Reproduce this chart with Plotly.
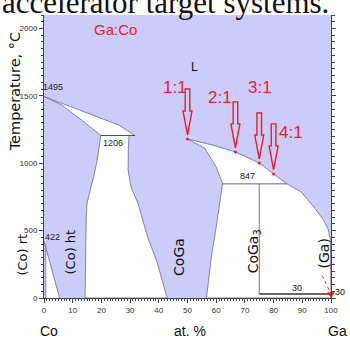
import plotly.graph_objects as go

# ---------------- data ----------------
# liquidus, Co side -> Ga side (at.% Ga, deg C)
liquidus_x = [0, 10, 20, 26, 31.7, 40, 50, 58.6, 66.7, 75, 80, 84.6, 89.6, 94.0, 97.4, 99.1, 99.8, 100]
liquidus_t = [1495, 1413, 1331, 1284, 1206, 1195, 1180, 1136, 1084, 1002, 921, 847, 787, 676, 579, 505, 431, 30]

# solidus of (Co)
co_solidus_x = [0, 6.1, 13, 19.8]
co_solidus_t = [1495, 1433, 1322, 1206]

# (Co) ht solvus
co_ht_solvus_x = [19.8, 19.2, 18.5, 17.3, 16.0, 15.0, 14.7, 14.5, 14.3]
co_ht_solvus_t = [1206, 1100, 1020, 900, 800, 705, 600, 400, 0]

# CoGa left (Co-rich) boundary
coga_left_x = [29.6, 29.4, 29.3, 30.3, 32.7, 36.1, 39.5, 42.9]
coga_left_t = [1206, 1100, 950, 824, 705, 453, 260, 0]

# CoGa right (Ga-rich) boundary: solidus then solvus
coga_right_x = [50, 55.9, 60.0, 62.0, 62.2, 61.1, 60.0, 58.3, 56.6]
coga_right_t = [1180, 1114, 973, 861, 847, 705, 527, 304, 0]

# (Co) rt region
co_rt_x = [0, 5.45]
co_rt_t = [422, 0]
co_rt_limit_x = 0.6

# invariants
t_melt_co = 1495
t_eutectic = 1206
t_peritectic = 847
t_co_transform = 422
t_ga_eutectic = 30
coga3_x = 75
ga_x = 100
t_floor = 0
peritectic_liq_x = 84.6
peritectic_coga_x = 62.2

# Ga:Co ratios marked on the liquidus
ratio_labels = ["1:1", "2:1", "3:1", "4:1"]
ratio_x = [50, 66.7, 75, 80]
ratio_t = [1180, 1084, 1002, 921]

# axis ticks
y_ticks = [0, 500, 1000, 1500, 2000]
x_ticks = [0, 10, 20, 30, 40, 50, 60, 70, 80, 90, 100]

X_MAX = 100
Y_MAX = 2100

# ---------------- style ----------------
BLUE = "#ccccfa"
RED = "#ee1c25"
EDGE = "#77779a"
DARK = "#505050"
NARROW = "Liberation Sans Narrow, Arial Narrow, Liberation Sans, sans-serif"
WIDE = "DejaVu Sans, Verdana, sans-serif"

fig = go.Figure()


def white_poly(xs, ts):
    fig.add_trace(go.Scatter(x=xs, y=ts, mode="lines", fill="toself",
                             fillcolor="white",
                             line=dict(color=EDGE, width=0.9),
                             hoverinfo="skip", showlegend=False))


def line(xs, ts, color=DARK, width=1.0, dash=None):
    fig.add_trace(go.Scatter(x=xs, y=ts, mode="lines",
                             line=dict(color=color, width=width, dash=dash),
                             hoverinfo="skip", showlegend=False))


liq = list(zip(liquidus_x, liquidus_t))
e_x = liquidus_x[liquidus_t.index(t_eutectic)]

# L + (Co)
pa = [p for p in liq if p[0] <= e_x] + list(zip(co_solidus_x, co_solidus_t))[::-1]
white_poly([p[0] for p in pa], [p[1] for p in pa])

# (Co) + CoGa
pb = list(zip(co_ht_solvus_x, co_ht_solvus_t)) + list(zip(coga_left_x, coga_left_t))[::-1]
white_poly([p[0] for p in pb], [p[1] for p in pb])

# L + CoGa, CoGa + CoGa3, CoGa3 + L ...
pc = [p for p in liq if p[0] >= coga_right_x[0]] + [(ga_x, t_floor)] + \
     list(zip(coga_right_x, coga_right_t))[::-1]
white_poly([p[0] for p in pc], [p[1] for p in pc])

# (Co) rt two-phase triangle
slope_t = co_rt_t[0] + (co_rt_t[1] - co_rt_t[0]) * co_rt_limit_x / co_rt_x[1]
pd_ = [(co_rt_limit_x, t_floor), (co_rt_limit_x, slope_t), (co_rt_x[0], co_rt_t[0]),
       (co_rt_x[1], co_rt_t[1])]
white_poly([p[0] for p in pd_], [p[1] for p in pd_])

# invariant lines
line([e_x, co_solidus_x[-1]], [t_eutectic, t_eutectic], color=DARK, width=1)
line([peritectic_coga_x, peritectic_liq_x], [t_peritectic, t_peritectic], color="#666", width=1)
line([coga3_x, coga3_x], [t_peritectic, t_ga_eutectic], color="#777", width=1)
line([coga3_x, ga_x], [t_ga_eutectic, t_ga_eutectic], color="#333", width=1.6)

# ratio points
fig.add_trace(go.Scatter(x=ratio_x, y=ratio_t, mode="markers",
                         marker=dict(color=RED, size=3),
                         hoverinfo="skip", showlegend=False))

# (Ga) pointer
line([97.0, ga_x], [165, t_ga_eutectic], color=RED, width=1, dash="dot")
fig.add_trace(go.Scatter(x=[ga_x], y=[t_ga_eutectic], mode="markers",
                         marker=dict(color=RED, size=7, symbol="triangle-down"),
                         cliponaxis=False, hoverinfo="skip", showlegend=False))

# hollow block arrows pointing at the ratio points (pixel-sized, anchored to data)
arrow_path = "M 0 4 L -4.5 28 L -2.3 28 L -2.3 50 L 2.3 50 L 2.3 28 L 4.5 28 Z"
for x, t in zip(ratio_x, ratio_t):
    fig.add_shape(type="path", xref="x", yref="y", xsizemode="pixel", ysizemode="pixel",
                  xanchor=x, yanchor=t, path=arrow_path,
                  line=dict(color=RED, width=1.4), fillcolor="rgba(0,0,0,0)")

# ratio labels
label_shift = [(-13, 51), (-15, 54), (1, 75), (17, 41)]
for lab, x, t, (dx, dy) in zip(ratio_labels, ratio_x, ratio_t, label_shift):
    fig.add_annotation(x=x, y=t, text=lab, showarrow=False, xshift=dx, yshift=dy,
                       font=dict(family=NARROW, size=17, color=RED))


def px(xv):
    return xv / X_MAX


def py(tv):
    return tv / Y_MAX


# small number labels
for txt, x, t in [(str(t_melt_co), 3.1, 1566), (str(t_eutectic), 24.2, 1150),
                  (str(t_peritectic), 70.9, 906), (str(t_co_transform), 3.1, 453),
                  (str(t_ga_eutectic), 88.2, 74), (str(t_ga_eutectic), 103.0, 45)]:
    fig.add_annotation(xref="paper", yref="paper", x=px(x), y=py(t),
                       xanchor="center", yanchor="middle", text=txt, showarrow=False,
                       font=dict(family=NARROW, size=9, color="#222"))

fig.add_annotation(x=24.9, y=1991, text="Ga:Co", showarrow=False,
                   font=dict(family=NARROW, size=15, color=RED))
fig.add_annotation(x=52.5, y=1715, text="L", showarrow=False,
                   font=dict(family=NARROW, size=12, color="#111"))

# rotated phase labels
for txt, x, t, s in [("(Co) rt", -7.8, 319, 13), ("(Co) ht", 9.2, 341, 13),
                     ("CoGa", 47.0, 304, 14), ("CoGa<sub>3</sub>", 73.3, 349, 14),
                     ("(Ga)", 97.4, 327, 14)]:
    fig.add_annotation(xref="paper", yref="paper", x=px(x), y=py(t),
                       xanchor="center", yanchor="middle", text=txt, showarrow=False,
                       textangle=-90, font=dict(family=WIDE, size=s, color="#111"))

# bottom labels
for txt, x in [("Co", 1.7), ("at. %", 50.8), ("Ga", 102.2)]:
    fig.add_annotation(xref="paper", yref="paper", x=px(x), y=py(-245),
                       xanchor="center", yanchor="middle", text=txt, showarrow=False,
                       font=dict(family=NARROW, size=14, color="#111"))

# y-axis title
fig.add_annotation(xref="paper", yref="paper", x=-0.1, xanchor="center",
                   y=(298 - 92) / 283, yanchor="middle", text="Temperature, °C",
                   showarrow=False, textangle=-90,
                   font=dict(family=WIDE, size=14.5, color="#111"))

# cropped document text above the chart
fig.add_annotation(xref="paper", yref="paper", x=-0.153, xanchor="left",
                   y=(298 - 3) / 283, yanchor="middle",
                   text="accelerator target systems.", showarrow=False,
                   font=dict(family="Liberation Serif, Times New Roman, serif", size=31, color="#111"))

fig.update_layout(
    width=350, height=341,
    margin=dict(l=44, r=12, t=15, b=43),
    paper_bgcolor="white", plot_bgcolor=BLUE,
    showlegend=False, hovermode=False,
    xaxis=dict(range=[0, X_MAX], tickvals=x_ticks, ticks="outside", ticklen=4,
               tickcolor="#444", showline=True, linecolor="#444", linewidth=1,
               showgrid=False, zeroline=False,
               minor=dict(dtick=1, ticklen=2, ticks="outside", tickcolor="#444"),
               tickfont=dict(family=NARROW, size=8, color="#333")),
    yaxis=dict(range=[0, Y_MAX], tickvals=y_ticks, ticks="outside", ticklen=4,
               tickcolor="#444", showline=True, linecolor="#444", linewidth=1,
               mirror="ticks", showgrid=False, zeroline=False,
               minor=dict(dtick=50, ticklen=2.5, ticks="outside", tickcolor="#444"),
               tickfont=dict(family=NARROW, size=8, color="#333")),
)

fig.write_html("out.html", config={"displayModeBar": False},
               post_script="document.body.style.margin='0px';")
